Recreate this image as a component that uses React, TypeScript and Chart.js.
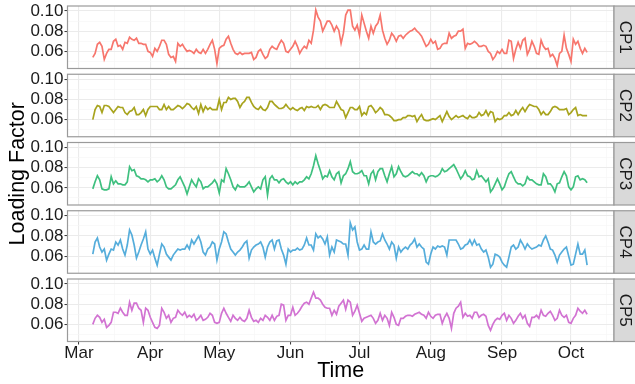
import React, { useEffect, useRef } from "react";
import { Chart, registerables } from "chart.js";

Chart.register(...registerables);
Chart.defaults.font.family = '"Liberation Sans", Arial, Helvetica, sans-serif';

// ---------- data ----------
// day offsets are counted from Mar 1; first observation is Mar 7
const firstDay = 6;
const monthLabels = ["Mar", "Apr", "May", "Jun", "Jul", "Aug", "Sep", "Oct"];
const monthStartDays = [0, 31, 61, 92, 122, 153, 184, 214];
const monthMidDays = [15.5, 46, 76.5, 107, 137.5, 168.5, 199, 229.5];
const yMajorTicks = [0.06, 0.08, 0.1];
const yMinorTicks = [0.05, 0.07, 0.09];
const panelNames = ["CP1", "CP2", "CP3", "CP4", "CP5"];

const cp1 = [
  .054,.058,.067,.069,.065,.052,.058,.062,.062,.070,.072,.065,.066,.062,.069,.068,.074,.072,.071,.073,.068,.068,.067,.067,.060,.059,.055,.063,.060,.065,.071,.071,.067,.057,.054,.055,.050,.068,.065,.067,.063,.060,.061,.060,.058,.062,.059,.058,.062,.058,.062,.067,.071,.062,.048,.063,.065,.066,.072,.075,.068,.062,.058,.057,.059,.057,.058,.058,.058,.059,.052,.054,.060,
  .062,.057,.053,.055,.062,.065,.063,.062,.067,.071,.068,.060,.059,.062,.065,.070,.065,.058,.062,.065,.063,.071,.068,.081,.101,.094,.090,.080,.085,.090,.090,.086,.080,.085,.081,.068,.078,.096,.101,.101,.085,.081,.086,.076,.096,.088,.080,.073,.085,.078,.085,.088,.096,.081,.073,.067,.071,.078,.075,.070,.075,.076,.073,.076,.078,.080,.081,.083,.080,.078,.075,.070,.065,
  .067,.072,.068,.070,.062,.063,.067,.068,.068,.078,.073,.075,.076,.080,.080,.082,.063,.068,.067,.068,.070,.068,.065,.065,.066,.065,.060,.058,.052,.055,.060,.058,.062,.058,.058,.071,.070,.053,.062,.069,.063,.071,.073,.057,.062,.070,.065,.058,.057,.071,.065,.062,.063,.055,.057,.053,.046,.058,.060,.076,.063,.057,.050,.072,.067,.070,.063,.058,.063,.059,
];
const cp2 = [
  .060,.070,.074,.073,.067,.074,.074,.073,.070,.067,.070,.073,.072,.072,.067,.065,.068,.069,.072,.065,.065,.067,.070,.064,.070,.073,.073,.073,.073,.070,.070,.075,.070,.073,.070,.070,.072,.074,.073,.071,.073,.076,.075,.072,.070,.073,.066,.075,.068,.073,.070,.072,.070,.070,.070,.080,.070,.077,.077,.082,.080,.081,.081,.078,.072,.076,.078,.082,.082,.077,.073,.071,.070,
  .073,.070,.069,.072,.078,.078,.075,.073,.071,.071,.072,.075,.072,.070,.072,.070,.069,.071,.072,.069,.073,.072,.073,.072,.072,.074,.070,.074,.075,.074,.072,.072,.072,.078,.074,.070,.069,.062,.067,.072,.072,.070,.070,.073,.064,.067,.065,.073,.074,.071,.067,.069,.072,.070,.065,.065,.064,.062,.059,.059,.060,.060,.062,.062,.064,.064,.063,.064,.058,.062,.065,.060,.059,
  .059,.060,.061,.060,.062,.064,.058,.063,.068,.063,.060,.062,.064,.062,.063,.064,.062,.061,.064,.062,.062,.063,.067,.064,.065,.069,.064,.068,.067,.058,.061,.060,.061,.064,.064,.067,.064,.065,.069,.065,.069,.072,.068,.072,.075,.074,.073,.073,.070,.065,.068,.065,.065,.068,.072,.073,.072,.070,.070,.070,.071,.065,.067,.070,.072,.064,.065,.064,.064,.064,
];
const cp3 = [
  .059,.066,.072,.068,.059,.058,.058,.059,.071,.064,.067,.064,.064,.063,.063,.066,.081,.077,.078,.072,.071,.069,.069,.068,.066,.068,.068,.069,.066,.068,.072,.068,.061,.059,.059,.061,.063,.068,.071,.066,.061,.054,.061,.068,.064,.061,.069,.066,.059,.061,.061,.063,.065,.068,.064,.055,.068,.066,.079,.074,.068,.061,.058,.063,.061,.061,.061,.063,.066,.061,.056,.059,.061,
  .059,.068,.071,.053,.069,.072,.068,.068,.065,.068,.069,.066,.064,.066,.063,.066,.064,.066,.066,.068,.071,.069,.074,.082,.092,.084,.077,.069,.072,.071,.077,.071,.068,.074,.076,.065,.072,.074,.079,.086,.076,.074,.074,.075,.077,.072,.072,.064,.074,.077,.068,.076,.079,.079,.072,.066,.074,.081,.071,.074,.081,.076,.072,.071,.072,.074,.076,.074,.074,.072,.075,.072,.066,
  .071,.072,.072,.071,.072,.074,.079,.076,.077,.079,.081,.083,.079,.074,.069,.072,.077,.072,.071,.068,.069,.077,.071,.072,.069,.066,.069,.056,.059,.064,.069,.064,.058,.061,.068,.074,.076,.071,.066,.064,.064,.062,.064,.071,.068,.068,.066,.064,.063,.063,.074,.071,.064,.064,.061,.056,.064,.065,.071,.076,.072,.061,.058,.061,.071,.072,.068,.069,.068,.065,
];
const cp4 = [
  .062,.074,.078,.069,.064,.067,.056,.062,.067,.066,.074,.071,.076,.067,.061,.071,.086,.081,.071,.058,.064,.071,.077,.084,.067,.062,.066,.058,.051,.062,.072,.069,.062,.059,.056,.061,.064,.067,.066,.067,.067,.071,.067,.076,.072,.076,.080,.074,.064,.061,.067,.069,.074,.072,.056,.067,.074,.084,.082,.074,.067,.064,.061,.064,.066,.069,.073,.075,.058,.066,.069,.071,.072,
  .074,.069,.059,.069,.074,.076,.067,.075,.076,.067,.061,.052,.067,.064,.066,.066,.068,.066,.067,.071,.078,.071,.071,.066,.082,.078,.080,.077,.072,.079,.061,.069,.064,.076,.075,.074,.072,.072,.061,.093,.086,.089,.074,.066,.067,.071,.067,.067,.084,.074,.072,.074,.075,.082,.076,.072,.067,.074,.071,.058,.069,.064,.067,.069,.067,.071,.073,.077,.069,.072,.069,.067,.054,
  .052,.062,.069,.067,.070,.069,.070,.069,.061,.076,.076,.076,.076,.072,.067,.068,.071,.072,.076,.071,.076,.071,.072,.067,.064,.066,.059,.049,.052,.062,.061,.059,.054,.051,.049,.059,.069,.071,.067,.069,.076,.072,.067,.072,.069,.067,.068,.069,.071,.070,.076,.080,.074,.067,.066,.061,.054,.061,.064,.067,.069,.060,.051,.052,.062,.072,.062,.062,.066,.051,
];
const cp5 = [
  .060,.066,.069,.067,.062,.065,.057,.059,.062,.072,.072,.071,.076,.072,.069,.069,.082,.074,.081,.081,.076,.074,.062,.076,.074,.067,.062,.057,.056,.059,.076,.072,.066,.069,.062,.066,.067,.074,.071,.069,.072,.067,.069,.067,.070,.064,.066,.069,.064,.065,.067,.071,.069,.062,.061,.062,.071,.076,.071,.067,.063,.069,.066,.064,.067,.064,.063,.066,.074,.067,.063,.064,.062,
  .066,.064,.069,.067,.064,.069,.064,.068,.069,.080,.079,.064,.069,.069,.077,.069,.071,.074,.078,.081,.082,.080,.086,.092,.086,.086,.084,.080,.077,.076,.076,.069,.074,.070,.078,.081,.084,.075,.084,.082,.069,.073,.079,.071,.063,.066,.067,.068,.069,.066,.061,.064,.071,.064,.069,.066,.059,.072,.067,.060,.059,.066,.066,.068,.069,.069,.068,.070,.071,.072,.070,.069,.066,
  .072,.068,.066,.069,.070,.070,.061,.067,.071,.066,.056,.071,.076,.078,.082,.067,.071,.068,.069,.066,.072,.072,.067,.069,.070,.068,.059,.054,.060,.064,.066,.065,.069,.071,.064,.069,.066,.061,.064,.068,.071,.066,.069,.061,.058,.067,.067,.069,.066,.074,.069,.068,.071,.073,.069,.064,.066,.074,.069,.067,.069,.062,.061,.066,.069,.076,.073,.071,.074,.070,
];
const seriesList = [cp1, cp2, cp3, cp4, cp5];

// ---------- styling / layout ----------
const W = 635;
const H = 384;
const PLOT_LEFT = 67.5;
const PLOT_RIGHT = 614;
const PANEL_TOP0 = 6;
const PANEL_PITCH = 68.25;
const PANEL_H = 62.5;
const STRIP_W = 23;
const X_MIN = -5;
const X_MAX = 232.7;
const Y_MIN = 0.043;
const Y_MAX = 0.105;
const colors = ["#F7766D", "#A8A41E", "#3FC07F", "#55ADDB", "#D273D2"];
const BORDER = "#9a9a9a";
const STRIP_FILL = "#D9D9D9";
const GRID_MAJOR = "#EBEBEB";
const GRID_MINOR = "#F5F5F5";
const TEXT = "#1a1a1a";
const TICK_SIZE = 17;
const TITLE_SIZE = 21.5;

const isMajorY = (v: number) => yMajorTicks.some((m) => Math.abs(m - v) < 1e-9);
const isMajorX = (v: number) => monthStartDays.includes(v);

const panelPlugin = {
  id: "panelDecor",
  afterDraw(chart: any, _args: any, opts: any) {
    const { ctx, chartArea } = chart;
    const { left, right, top, bottom } = chartArea;
    ctx.save();
    ctx.strokeStyle = BORDER;
    ctx.lineWidth = 1.2;
    ctx.strokeRect(left, top, right - left, bottom - top);
    ctx.fillStyle = STRIP_FILL;
    ctx.fillRect(right, top, STRIP_W, bottom - top);
    ctx.strokeRect(right, top, STRIP_W, bottom - top);
    ctx.translate(right + STRIP_W / 2, (top + bottom) / 2);
    ctx.rotate(Math.PI / 2);
    ctx.fillStyle = TEXT;
    ctx.font = `${TICK_SIZE}px "Liberation Sans", Arial, sans-serif`;
    ctx.textAlign = "center";
    ctx.textBaseline = "middle";
    ctx.fillText(opts.label, 0, 1);
    ctx.restore();
  },
};

function makeConfig(i: number): any {
  const isLast = i === 4;
  const top = PANEL_TOP0 + i * PANEL_PITCH;
  const bottom = top + PANEL_H;
  const series = seriesList[i];
  return {
    type: "line",
    data: {
      datasets: [
        {
          data: series.map((v, k) => ({ x: firstDay + k, y: v })),
          borderColor: colors[i],
          borderWidth: 1.7,
          pointRadius: 0,
          tension: 0,
          fill: false,
        },
      ],
    },
    options: {
      animation: false,
      responsive: false,
      events: [],
      layout: {
        padding: { left: 0, right: W - PLOT_RIGHT, top, bottom: isLast ? 0 : H - bottom },
      },
      plugins: {
        legend: { display: false },
        tooltip: { enabled: false },
        panelDecor: { label: panelNames[i] },
      },
      scales: {
        x: {
          type: "linear",
          min: X_MIN,
          max: X_MAX,
          afterBuildTicks: (s: any) => {
            s.ticks = [...monthStartDays, ...monthMidDays]
              .sort((a, b) => a - b)
              .map((v) => ({ value: v }));
          },
          afterFit: (s: any) => {
            s.height = isLast ? H - bottom : 0;
            s.paddingLeft = 0;
            s.paddingRight = 0;
          },
          border: { display: false },
          grid: {
            drawTicks: isLast,
            tickLength: 3,
            tickWidth: 1,
            color: (c: any) => (c.tick && isMajorX(c.tick.value) ? GRID_MAJOR : GRID_MINOR),
            lineWidth: (c: any) => (c.tick && isMajorX(c.tick.value) ? 1.1 : 0.6),
            tickColor: (c: any) => (c.tick && isMajorX(c.tick.value) ? "#333333" : "rgba(0,0,0,0)"),
          },
          ticks: {
            display: isLast,
            autoSkip: false,
            maxRotation: 0,
            padding: 0,
            color: TEXT,
            font: { size: TICK_SIZE, lineHeight: 1 },
            callback: (v: number) => {
              const k = monthStartDays.indexOf(v);
              return k >= 0 ? monthLabels[k] : "";
            },
          },
          title: {
            display: isLast,
            text: "Time",
            color: "#000",
            font: { size: TITLE_SIZE },
            padding: { top: 0, bottom: 0 },
          },
        },
        y: {
          type: "linear",
          min: Y_MIN,
          max: Y_MAX,
          afterBuildTicks: (s: any) => {
            s.ticks = [...yMinorTicks, ...yMajorTicks]
              .sort((a, b) => a - b)
              .map((v) => ({ value: v }));
          },
          afterFit: (s: any) => {
            s.width = PLOT_LEFT;
            s.paddingTop = 0;
            s.paddingBottom = 0;
          },
          border: { display: false },
          grid: {
            tickLength: 3,
            tickWidth: 1,
            color: (c: any) => (c.tick && isMajorY(c.tick.value) ? GRID_MAJOR : GRID_MINOR),
            lineWidth: (c: any) => (c.tick && isMajorY(c.tick.value) ? 1.1 : 0.6),
            tickColor: (c: any) => (c.tick && isMajorY(c.tick.value) ? "#333333" : "rgba(0,0,0,0)"),
          },
          ticks: {
            autoSkip: false,
            padding: 1,
            color: TEXT,
            font: { size: TICK_SIZE },
            callback: (v: number) => (isMajorY(v) ? v.toFixed(2) : ""),
          },
          title: {
            display: i === 2,
            text: "Loading Factor",
            color: "#000",
            font: { size: TITLE_SIZE },
            padding: { top: 5, bottom: 0 },
          },
        },
      },
    },
    plugins: [panelPlugin],
  };
}

function PanelCanvas({ index }: { index: number }) {
  const ref = useRef<HTMLCanvasElement | null>(null);
  useEffect(() => {
    if (!ref.current) return;
    const chart = new Chart(ref.current, makeConfig(index));
    return () => chart.destroy();
  }, [index]);
  return (
    <canvas
      ref={ref}
      width={W}
      height={H}
      style={{ position: "absolute", left: 0, top: 0, width: W, height: H }}
    />
  );
}

export default function App() {
  return (
    <div
      style={{
        position: "fixed",
        left: 0,
        top: 0,
        width: W,
        height: H,
        background: "#ffffff",
        overflow: "hidden",
      }}
    >
      {panelNames.map((_, i) => (
        <PanelCanvas key={i} index={i} />
      ))}
    </div>
  );
}
